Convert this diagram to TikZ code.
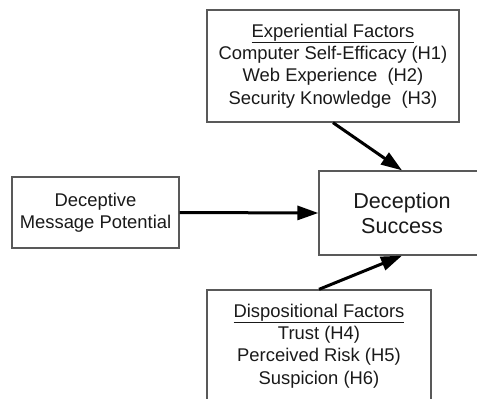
\documentclass[tikz,border=0pt]{standalone}
\usepackage{fontspec}
\setmainfont{Liberation Sans}
\usetikzlibrary{arrows.meta,positioning}

\begin{document}
\begin{tikzpicture}[x=1pt,y=-1pt,
  box/.style={draw=black!65,line width=1.3pt,align=center,inner sep=0pt,
    text=black!90,font=\fontsize{18.4}{22.3}\selectfont},
  link/.style={-{Triangle[length=21pt,width=14pt]},line width=3pt}]
  \useasboundingbox (0,0) rectangle (477,399);
  \clip (0,0) rectangle (477,399);

  % Boxes
  \node[box,minimum width=252pt,minimum height=112pt] (exp) at (333,66)
    {\underline{Experiential Factors}\\Computer Self-Efficacy (H1)\\
     Web Experience~~(H2)\\Security Knowledge~~(H3)};
  \node[box,minimum width=167pt,minimum height=71pt] (dmp) at (95.5,212.5)
    {Deceptive\\Message Potential};
  \node[box,minimum width=166pt,minimum height=84pt,
    font=\fontsize{21.6}{25}\selectfont] (succ) at (402,213)
    {Deception\\Success};
  \node[box,minimum width=224pt,minimum height=112pt] (disp) at (319,346)
    {\underline{Dispositional Factors}\\Trust (H4)\\Perceived Risk (H5)\\Suspicion (H6)};

  % Arrows
  \draw[link] (dmp.east) -- (succ.west);
  \draw[link] (exp.south) -- (succ.north);
  \draw[link] (disp.north) -- (succ.south);
\end{tikzpicture}
\end{document}
